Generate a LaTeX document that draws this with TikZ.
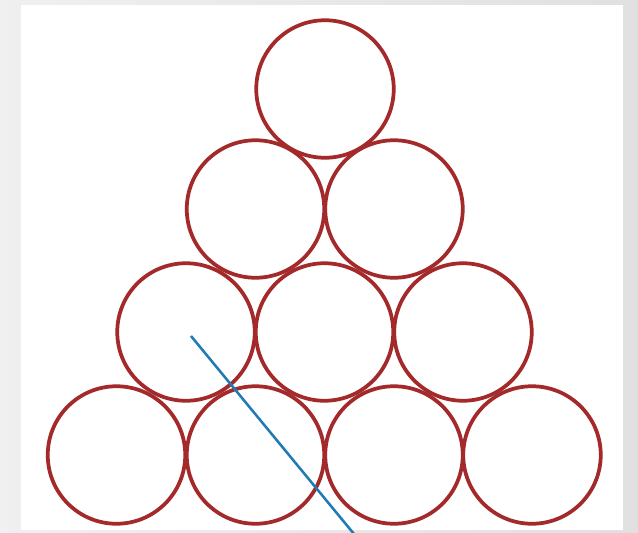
\documentclass[tikz,border=0pt]{standalone}
\begin{document}
\begin{tikzpicture}[x=0.75pt,y=-0.75pt,
  ball/.style={draw=ballred,line width=2.8pt,circle,minimum size=137.5*0.75pt,inner sep=0pt},
  ray/.style={draw=rayblue,line width=1.9pt}]
\definecolor{ballred}{HTML}{A3292A}
\definecolor{rayblue}{HTML}{1F7BB4}
\useasboundingbox (0,0) rectangle (638,532);
\shade[left color=black!6,right color=black!12] (0,0) rectangle (638,532);
\fill[white] (21,5) rectangle (623,530);
\node[ball] (a1) at (325,89) {};
\node[ball] (b1) at (255.5,209) {};
\node[ball] (b2) at (394,209) {};
\node[ball] (c1) at (186,332) {};
\node[ball] (c2) at (324.5,332) {};
\node[ball] (c3) at (463,332) {};
\node[ball] (d1) at (116.5,455) {};
\node[ball] (d2) at (255.5,455) {};
\node[ball] (d3) at (394,455) {};
\node[ball] (d4) at (532,455) {};
\coordinate (s) at (191,336);
\coordinate (e) at (354,534);
\draw[ray] (s) -- (e);
\end{tikzpicture}
\end{document}
